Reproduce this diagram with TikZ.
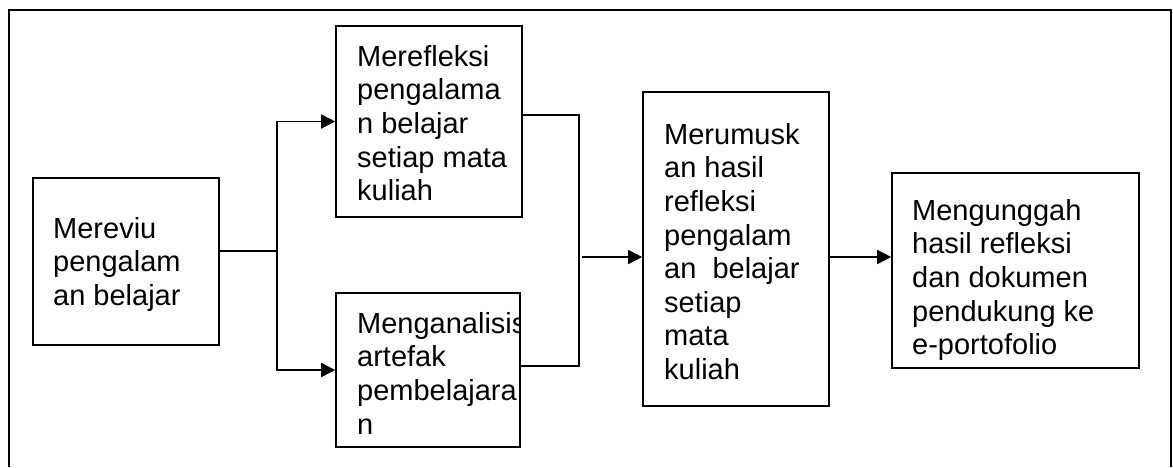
\documentclass[tikz,border=0pt]{standalone}
\usepackage{fontspec}
\setmainfont{Liberation Sans}
\usetikzlibrary{arrows.meta,calc}
\begin{document}
\begin{tikzpicture}[x=1pt,y=-1pt,
  box/.style={draw,line width=1.6pt,inner sep=0pt,rectangle},
  txt/.style={anchor=north west,inner sep=0pt,align=left,font=\fontsize{29}{33.6}\selectfont},
  conn/.style={line width=1.6pt},
  arr/.style={line width=1.6pt,-{Triangle[length=14pt,width=14pt]}}]
\useasboundingbox (0,0) rectangle (1173,467);
% outer frame (bottom lies below the visible area)
\draw[line width=1.6pt] (9,467) -- (9,10) -- (1171,10) -- (1171,467);
% boxes
\node[box,minimum width=186pt,minimum height=167pt] (b1) at (126,261.5) {};
\node[box,minimum width=186pt,minimum height=191pt] (b2) at (429,121.5) {};
\node[box,minimum width=184pt,minimum height=154pt] (b3) at (428,370) {};
\node[box,minimum width=186pt,minimum height=314pt] (b4) at (736,249) {};
\node[box,minimum width=247pt,minimum height=195pt] (b5) at (1015.5,270.5) {};
% texts
\node[txt] (t1) at (53,217) {Mereviu\\pengalam\\an belajar};
\node[txt] (t2) at (357,45) {Merefleksi\\pengalama\\n belajar\\setiap mata\\kuliah};
\begin{scope}
\clip (b3.north west) rectangle (b3.south east);
\node[txt] (t3) at (357,312) {Menganalisis\\artefak\\pembelajara\\n};
\end{scope}
\node[txt] (t4) at (664,123) {Merumusk\\an hasil\\refleksi\\pengalam\\an\ \ belajar\\setiap\\mata\\kuliah};
\node[txt] (t5) at (912,199) {Mengunggah\\hasil refleksi\\dan dokumen\\pendukung ke\\e-portofolio};
% junction coordinates
\coordinate (j1) at (277,251);
\coordinate (j2t) at (579,115);
\coordinate (j2b) at (579,366);
\coordinate (j2) at (582,257);
% connectors
\draw[conn] (b1.east |- j1) -- (j1);
\draw[arr] (j1) |- (b2.west);
\draw[arr] (j1) |- (b3.west);
\draw[conn] (b2.east |- j2t) -- (j2t) -- (j2b) -- (b3.east |- j2b);
\draw[arr] (j2) -- (b4.west |- j2);
\draw[arr] (b4.east |- j2) -- (b5.west |- j2);
\end{tikzpicture}
\end{document}
